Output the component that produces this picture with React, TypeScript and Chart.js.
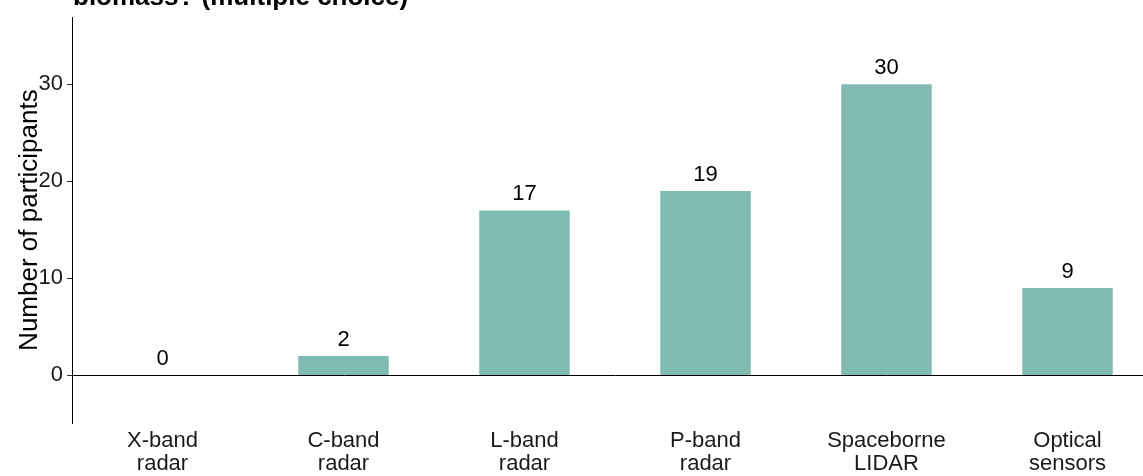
import React, { useEffect, useRef } from "react";
import { Chart, registerables } from "chart.js";

Chart.register(...registerables);

const categories: string[][] = [
  ["X-band", "radar"],
  ["C-band", "radar"],
  ["L-band", "radar"],
  ["P-band", "radar"],
  ["Spaceborne", "LIDAR"],
  ["Optical", "sensors"],
];
const participants: number[] = [0, 2, 17, 19, 30, 9];
const yTicks: number[] = [0, 10, 20, 30];
const titleText = "biomass? (multiple choice)";
const yAxisTitle = "Number of participants";

const FONT = '"Liberation Sans", Arial, sans-serif';

const labelPlugin = {
  id: "valueLabels",
  afterDatasetsDraw(chart: any) {
    const ctx = chart.ctx;
    const meta = chart.getDatasetMeta(0);
    ctx.save();
    ctx.font = `22px ${FONT}`;
    ctx.fillStyle = "#000";
    ctx.textAlign = "center";
    ctx.textBaseline = "alphabetic";
    meta.data.forEach((bar: any, i: number) => {
      ctx.fillText(String(participants[i]), bar.x, bar.y - 10);
    });
    ctx.font = `bold 26px ${FONT}`;
    ctx.textAlign = "left";
    ctx.fillText(titleText, 73, 5);
    ctx.restore();
  },
};

export default function App() {
  const ref = useRef<HTMLCanvasElement | null>(null);

  useEffect(() => {
    if (!ref.current) return;
    const chart = new Chart(ref.current, {
      type: "bar",
      data: {
        labels: categories,
        datasets: [
          {
            data: participants,
            backgroundColor: "#7FBBB0",
            borderWidth: 0,
            barPercentage: 0.5,
            categoryPercentage: 1.0,
          },
        ],
      },
      options: {
        responsive: false,
        animation: false,
        devicePixelRatio: 1,
        layout: { padding: { left: 0, right: 2, top: 13, bottom: 0 } },
        plugins: {
          legend: { display: false },
          tooltip: { enabled: false },
          title: { display: false },
        },
        scales: {
          x: {
            type: "category",
            offset: true,
            grid: { display: false, drawTicks: false },
            border: { display: false },
            ticks: {
              color: "#1a1a1a",
              font: { family: FONT, size: 22, lineHeight: 1.05 },
              padding: 6,
              maxRotation: 0,
              autoSkip: false,
            },
            afterFit: (scale: any) => {
              scale.height = 53;
            },
          },
          y: {
            type: "linear",
            min: -4.9,
            max: 36.9,
            afterBuildTicks: (scale: any) => {
              scale.ticks = yTicks.map((v) => ({ value: v }));
            },
            afterFit: (scale: any) => {
              scale.width = 72;
            },
            grid: {
              display: true,
              drawOnChartArea: true,
              drawTicks: true,
              tickLength: 5,
              tickColor: "#333",
              color: (ctx: any) =>
                ctx.tick && ctx.tick.value === 0 ? "#000" : "rgba(0,0,0,0)",
              lineWidth: 1,
            },
            border: { display: true, color: "#000", width: 1 },
            ticks: {
              color: "#1a1a1a",
              font: { family: FONT, size: 22 },
              padding: 4,
            },
            title: {
              display: true,
              text: yAxisTitle,
              color: "#000",
              font: { family: FONT, size: 26 },
              padding: { top: 14, bottom: 0 },
            },
          },
        },
      },
      plugins: [labelPlugin],
    });
    return () => chart.destroy();
  }, []);

  return (
    <div
      style={{
        position: "fixed",
        left: 0,
        top: 0,
        width: 1143,
        height: 476,
        overflow: "hidden",
        background: "#fff",
      }}
    >
      <canvas
        ref={ref}
        width={1160}
        height={476}
        style={{ display: "block", width: 1160, height: 476 }}
      />
    </div>
  );
}
